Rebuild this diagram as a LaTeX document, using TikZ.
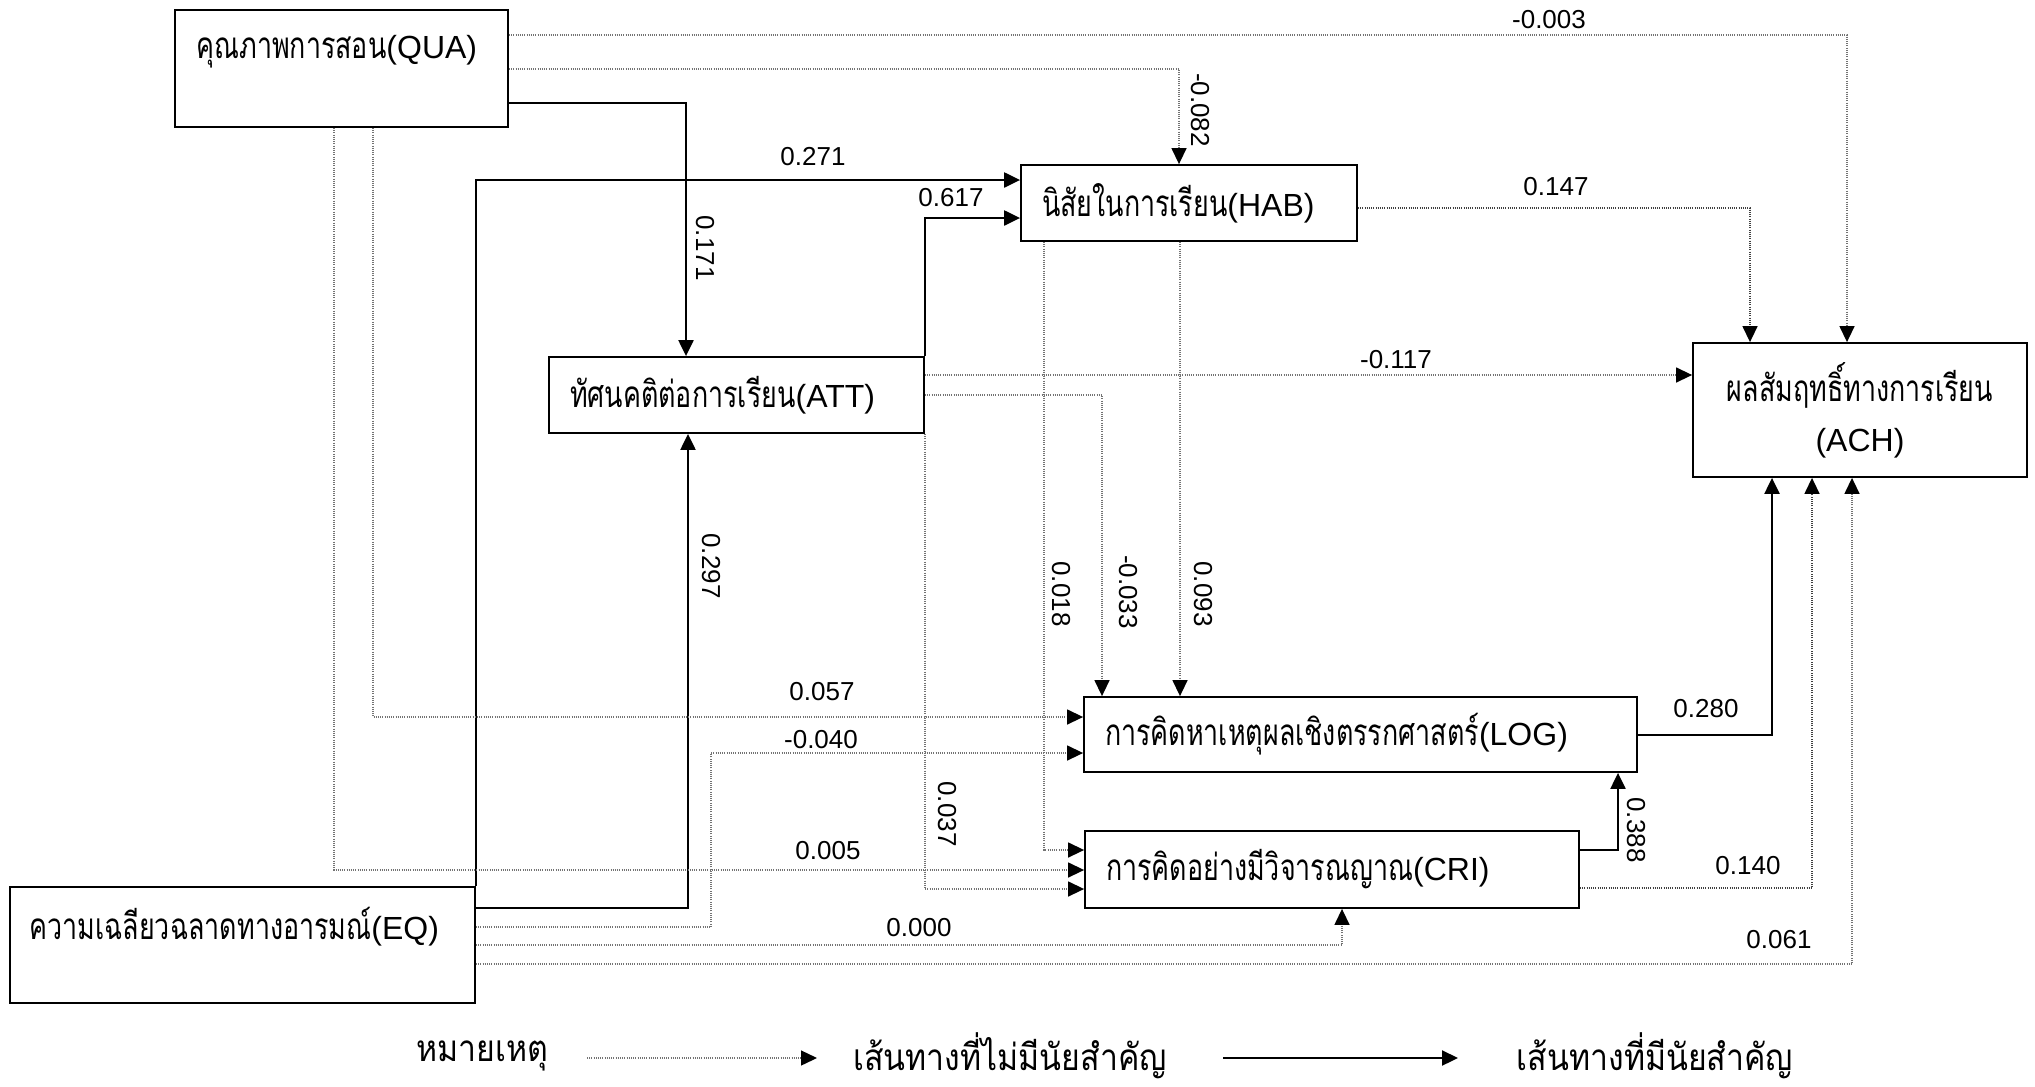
\documentclass[tikz,border=0pt]{standalone}
\usepackage{fontspec}
\setmainfont{Liberation Sans}
\newfontfamily\thai[Script=Thai, Scale=1.15, FakeStretch=0.73]{Loma}
\newfontfamily\thaileg[Script=Thai, Scale=1.15, FakeStretch=0.87]{Loma}
\usetikzlibrary{arrows.meta}
\begin{document}
\begin{tikzpicture}[x=0.5pt,y=-0.5pt,
  box/.style={draw, line width=0.9pt, inner xsep=10.5pt, inner ysep=0pt, align=left, font=\fontsize{16}{19}\selectfont},
  plain/.style={draw, line width=0.9pt, inner sep=0pt},
  txt/.style={inner sep=0pt, font=\fontsize{16}{19}\selectfont},
  num/.style={inner sep=0pt, font=\fontsize{13}{15}\selectfont},
  tip/.style={-{Triangle[length=8pt,width=7.5pt,color=black]}},
  sig/.style={line width=1.1pt, black, tip},
  ns/.style={line width=0.7pt, black!55, dash pattern=on 0.5pt off 0.6pt, tip},
]
\useasboundingbox[fill=white] (0,0) rectangle (2035,1087);

% boxes
\node[plain, minimum width=166.5pt, minimum height=58.5pt] (qua) at (341.5,68.5) {};
\node[txt, anchor=west] (quat) at (196,52) {{\thai คุณภาพการสอน}(QUA)};
\node[plain, minimum width=232.5pt, minimum height=58pt] (eq) at (242.5,945) {};
\node[txt, anchor=west] (eqt) at (29,927) {{\thai ความเฉลียวฉลาดทางอารมณ์}(EQ)};
\node[box, text width=166.5pt, minimum height=38pt] (att) at (736.5,395) {{\thai ทัศนคติต่อการเรียน}(ATT)};
\node[box, text width=147pt, minimum height=38pt] (hab) at (1189,203) {{\thai นิสัยในการเรียน}(HAB)};
\node[box, text width=255.5pt, minimum height=37.5pt] (log) at (1360.5,734.5) {{\thai การคิดหาเหตุผลเชิงตรรกศาสตร์}(LOG)};
\node[box, text width=226pt, minimum height=38.5pt] (cri) at (1332,869.5) {{\thai การคิดอย่างมีวิจารณญาณ}(CRI)};
\node[box, align=center, text width=146pt, minimum height=67pt, font=\fontsize{16}{25}\selectfont] (ach) at (1860,410) {{\thai ผลสัมฤทธิ์ทางการเรียน}\\(ACH)};

% significant paths
\draw[sig] (qua.east |- 0,103) -| (att.north -| 686,0);
\draw[sig] (eq.north east) |- (hab.west |- 0,180);
\draw[sig] (att.north east) |- (hab.west |- 0,218);
\draw[sig] (eq.east |- 0,908) -| (att.south -| 688,0);
\draw[sig] (log.east |- 0,735) -| (ach.south -| 1772,0);
\draw[sig] (cri.east |- 0,850) -| (log.south -| 1618,0);

% non-significant paths
\draw[ns] (qua.east |- 0,35) -| (ach.north -| 1847,0);
\draw[ns] (qua.east |- 0,69) -| (hab.north -| 1179,0);
\draw[ns, black!75] (hab.east |- 0,208) -| (ach.north -| 1750,0);
\draw[ns] (att.east |- 0,375) -- (ach.west |- 0,375);
\draw[ns] (att.east |- 0,395) -| (log.north -| 1102,0);
\draw[ns] (hab.south -| 1180,0) -- (log.north -| 1180,0);
\draw[ns] (hab.south -| 1044,0) |- (cri.west |- 0,850);
\draw[ns] (att.south east) |- (cri.west |- 0,889);
\draw[ns] (qua.south -| 373,0) |- (log.west |- 0,717);
\draw[ns] (eq.east |- 0,927) -| (711,753) -- (log.west |- 0,753);
\draw[ns] (qua.south -| 334,0) |- (cri.west |- 0,870);
\draw[ns] (eq.east |- 0,945) -| (cri.south -| 1342,0);
\draw[ns] (eq.east |- 0,964) -| (ach.south -| 1852,0);
\draw[ns, black!75] (cri.east |- 0,888) -| (ach.south -| 1812,0);

% coefficients
\node[num] (l1) at (1549,20) {-0.003};
\node[num, rotate=-90] (l2) at (1200,110) {-0.082};
\node[num] (l3) at (813,157) {0.271};
\node[num] (l4) at (951,198) {0.617};
\node[num, rotate=-90] (l5) at (705,248) {0.171};
\node[num] (l6) at (1556,187) {0.147};
\node[num] (l7) at (1396,360) {-0.117};
\node[num, rotate=-90] (l8) at (711,566) {0.297};
\node[num, rotate=-90] (l9) at (1061,594) {0.018};
\node[num, rotate=-90] (l10) at (1128,592) {-0.033};
\node[num, rotate=-90] (l11) at (1203,594) {0.093};
\node[num] (l12) at (822,692) {0.057};
\node[num] (l13) at (821,740) {-0.040};
\node[num, rotate=-90] (l14) at (947,814) {0.037};
\node[num] (l15) at (828,851) {0.005};
\node[num] (l16) at (919,928) {0.000};
\node[num] (l17) at (1706,709) {0.280};
\node[num, rotate=-90] (l18) at (1636,830) {0.388};
\node[num] (l19) at (1748,866) {0.140};
\node[num] (l20) at (1779,940) {0.061};

% legend
\node[txt] (legT) at (482,1056) {\thaileg หมายเหตุ};
\coordinate (la) at (587,1058);
\coordinate (lb) at (817,1058);
\draw[ns] (la) -- (lb);
\node[txt] (legNS) at (1010,1056) {\thaileg เส้นทางที่ไม่มีนัยสำคัญ};
\coordinate (lc) at (1223,1058);
\coordinate (ld) at (1458,1058);
\draw[sig] (lc) -- (ld);
\node[txt] (legS) at (1655,1056) {\thaileg เส้นทางที่มีนัยสำคัญ};
\end{tikzpicture}
\end{document}
